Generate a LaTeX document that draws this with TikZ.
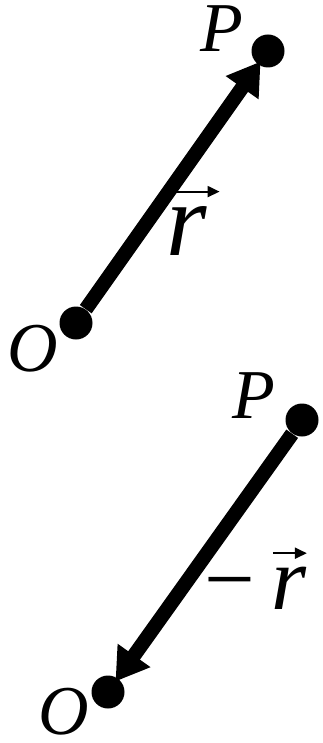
\documentclass[tikz,border=0pt]{standalone}
\usepackage{fontspec}
\setmainfont{Liberation Serif}
\usetikzlibrary{arrows.meta,positioning}
\tikzset{
  ptdot/.style={circle, fill=black, minimum size=16.5pt, inner sep=0pt},
  vecln/.style={-{Triangle[length=16pt,width=19pt]}, line width=7.2pt, shorten >=-2pt},
  lbl/.style={font=\fontsize{35}{40}\selectfont\itshape, inner sep=0pt},
  rlbl/.style={inner sep=0pt, anchor=base west},
  overarr/.style={-{Triangle[length=6pt,width=5.5pt]}, line width=1pt},
}
\begin{document}
\begin{tikzpicture}[x=0.5pt, y=-0.5pt]
    \useasboundingbox (0,0) rectangle (322,743);
    % upper vector O -> P
    \node[ptdot] (O1) at (76,323) {};
    \node[ptdot] (P1) at (268,51) {};
    \draw[vecln] (O1) -- (P1);
    \node[lbl] (lblP1) at (222,29) {P};
    \node[lbl] (lblO1) at (33,349) {O};
    \node[rlbl, font=\fontsize{52}{56}\selectfont] (r1) at (166,256) {\textit{r}};
    \draw[overarr] ([shift={(9,-15)}]r1.north west) -- ([shift={(12,-15)}]r1.north east);
    % lower vector P -> O
    \node[ptdot] (P2) at (302,420) {};
    \node[ptdot] (O2) at (108,692) {};
    \draw[vecln] (P2) -- (O2);
    \node[lbl] (lblP2) at (254,396) {P};
    \node[lbl] (lblO2) at (64,712) {O};
    \node[rlbl, font=\fontsize{45}{50}\selectfont] (r2) at (204,609) {−\hspace{8pt}\textit{r}};
    \draw[overarr] ([shift={(-34,-13)}]r2.north east) -- ([shift={(0,-13)}]r2.north east);
\end{tikzpicture}
\end{document}
